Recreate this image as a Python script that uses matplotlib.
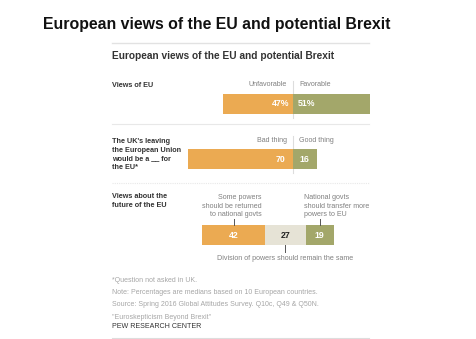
import matplotlib.pyplot as plt

# medians across 10 European countries
eu_labels = ['Unfavorable', 'Favorable']
eu_values = [47, 51]
brexit_labels = ['Bad thing', 'Good thing']
brexit_values = [70, 16]
future_labels = ['Some powers\nshould be returned\nto national govts',
                 'Division of powers should remain the same',
                 'National govts\nshould transfer more\npowers to EU']
future_values = [42, 27, 19]

orange = '#EBAA52'
green = '#A3A76A'
beige = '#E6E3D6'
gray = '#808080'

W, H = 477, 339
PX = 1.5          # pixels per percentage point
CX = 293          # pixel column of the zero line

def px(x):
    return (x - CX) / PX

plt.rcParams['font.family'] = ['Liberation Sans', 'DejaVu Sans']
fig = plt.figure(figsize=(W / 100, H / 100), dpi=100)
ax = fig.add_axes([0, 0, 1, 1])
ax.set_xlim(px(0), px(W))
ax.set_ylim(H, 0)
ax.axis('off')

ax.text(px(43), 25, 'European views of the EU and potential Brexit',
        fontsize=11.4, fontweight='bold', va='center', color='#111111')
ax.plot([px(112), px(369)], [43, 43], color='#e2e2e2', lw=1)
ax.text(px(112), 56, 'European views of the EU and potential Brexit',
        fontsize=7.3, fontweight='bold', va='center', color='#333333')

lab = dict(fontsize=5.2, fontweight='bold', color='#333333', va='top', linespacing=1.35)
cat = dict(fontsize=5.1, color=gray, va='center', linespacing=1.35)
val = dict(fontsize=6.3, fontweight='bold', va='center')

# row 1: views of EU
y1 = 104
ax.barh(y1, -eu_values[0], height=20, left=0, color=orange)
ax.barh(y1, eu_values[1], height=20, left=0, color=green)
ax.plot([0, 0], [81, 118], color='#dddddd', lw=0.8, zorder=0)
ax.text(px(112), 82, 'Views of EU', **lab)
ax.text(px(287), 85, eu_labels[0], ha='right', **cat)
ax.text(px(299), 85, eu_labels[1], ha='left', **cat)
ax.text(px(289), y1, '%d%%' % eu_values[0], ha='right', color='white', **val)
ax.text(px(298), y1, '%d%%' % eu_values[1], ha='left', color='white', **val)
ax.plot([px(112), px(369)], [124, 124], color='#e8e8e8', lw=0.8)

# row 2: UK leaving
y2 = 159
ax.barh(y2, -brexit_values[0], height=20, left=0, color=orange)
ax.barh(y2, brexit_values[1], height=20, left=0, color=green)
ax.plot([0, 0], [136, 173], color='#dddddd', lw=0.8, zorder=0)
ax.text(px(112), 138, "The UK's leaving\nthe European Union\nwould be a __ for\nthe EU*", **lab)
ax.text(px(287), 141, brexit_labels[0], ha='right', **cat)
ax.text(px(299), 141, brexit_labels[1], ha='left', **cat)
ax.text(px(285), y2, str(brexit_values[0]), ha='right', color='white', **val)
ax.text(px(299), y2, str(brexit_values[1]), ha='left', color='white', **val)
ax.plot([px(112), px(369)], [183, 183], color='#e8e8e8', lw=0.8, ls=(0, (1, 1)))

# row 3: future of the EU, stacked from a fixed start
y3 = 235
start = px(202)
lefts = [start, start + future_values[0], start + future_values[0] + future_values[1]]
colors = [orange, beige, green]
for v, l, c in zip(future_values, lefts, colors):
    ax.barh(y3, v, height=20, left=l, color=c)
ax.text(px(112), 193, 'Views about the\nfuture of the EU', **lab)
mids = [l + v / 2 for v, l in zip(future_values, lefts)]
ax.text(mids[0], y3, str(future_values[0]), ha='center', color='white', **val)
ax.text(mids[1], y3, str(future_values[1]), ha='center', color='#222222', **val)
ax.text(mids[2], y3, str(future_values[2]), ha='center', color='white', **val)
ax.text(px(262), 206, future_labels[0], ha='right', **cat)
ax.text(px(304), 206, future_labels[2], ha='left', **cat)
ax.plot([mids[0], mids[0]], [219, 225], color='#555555', lw=0.7)
ax.plot([mids[2], mids[2]], [219, 225], color='#555555', lw=0.7)
ax.plot([mids[1], mids[1]], [245, 252], color='#555555', lw=0.7)
ax.text(mids[1], 258, future_labels[1], ha='center', **cat)

notes = ['*Question not asked in UK.',
         'Note: Percentages are medians based on 10 European countries.',
         'Source: Spring 2016 Global Attitudes Survey. Q10c, Q49 & Q50N.',
         '"Euroskepticism Beyond Brexit"']
for i, n in enumerate(notes):
    ax.text(px(112), 280 + i * 12.4, n, fontsize=5.0, color='#a6a6a6', va='center')
ax.text(px(112), 327, 'PEW RESEARCH CENTER', fontsize=5.1, color='#333333', va='center')
ax.plot([px(112), px(369)], [338, 338], color='#dddddd', lw=0.8)

fig.savefig('out.png', dpi=100, facecolor='white')
